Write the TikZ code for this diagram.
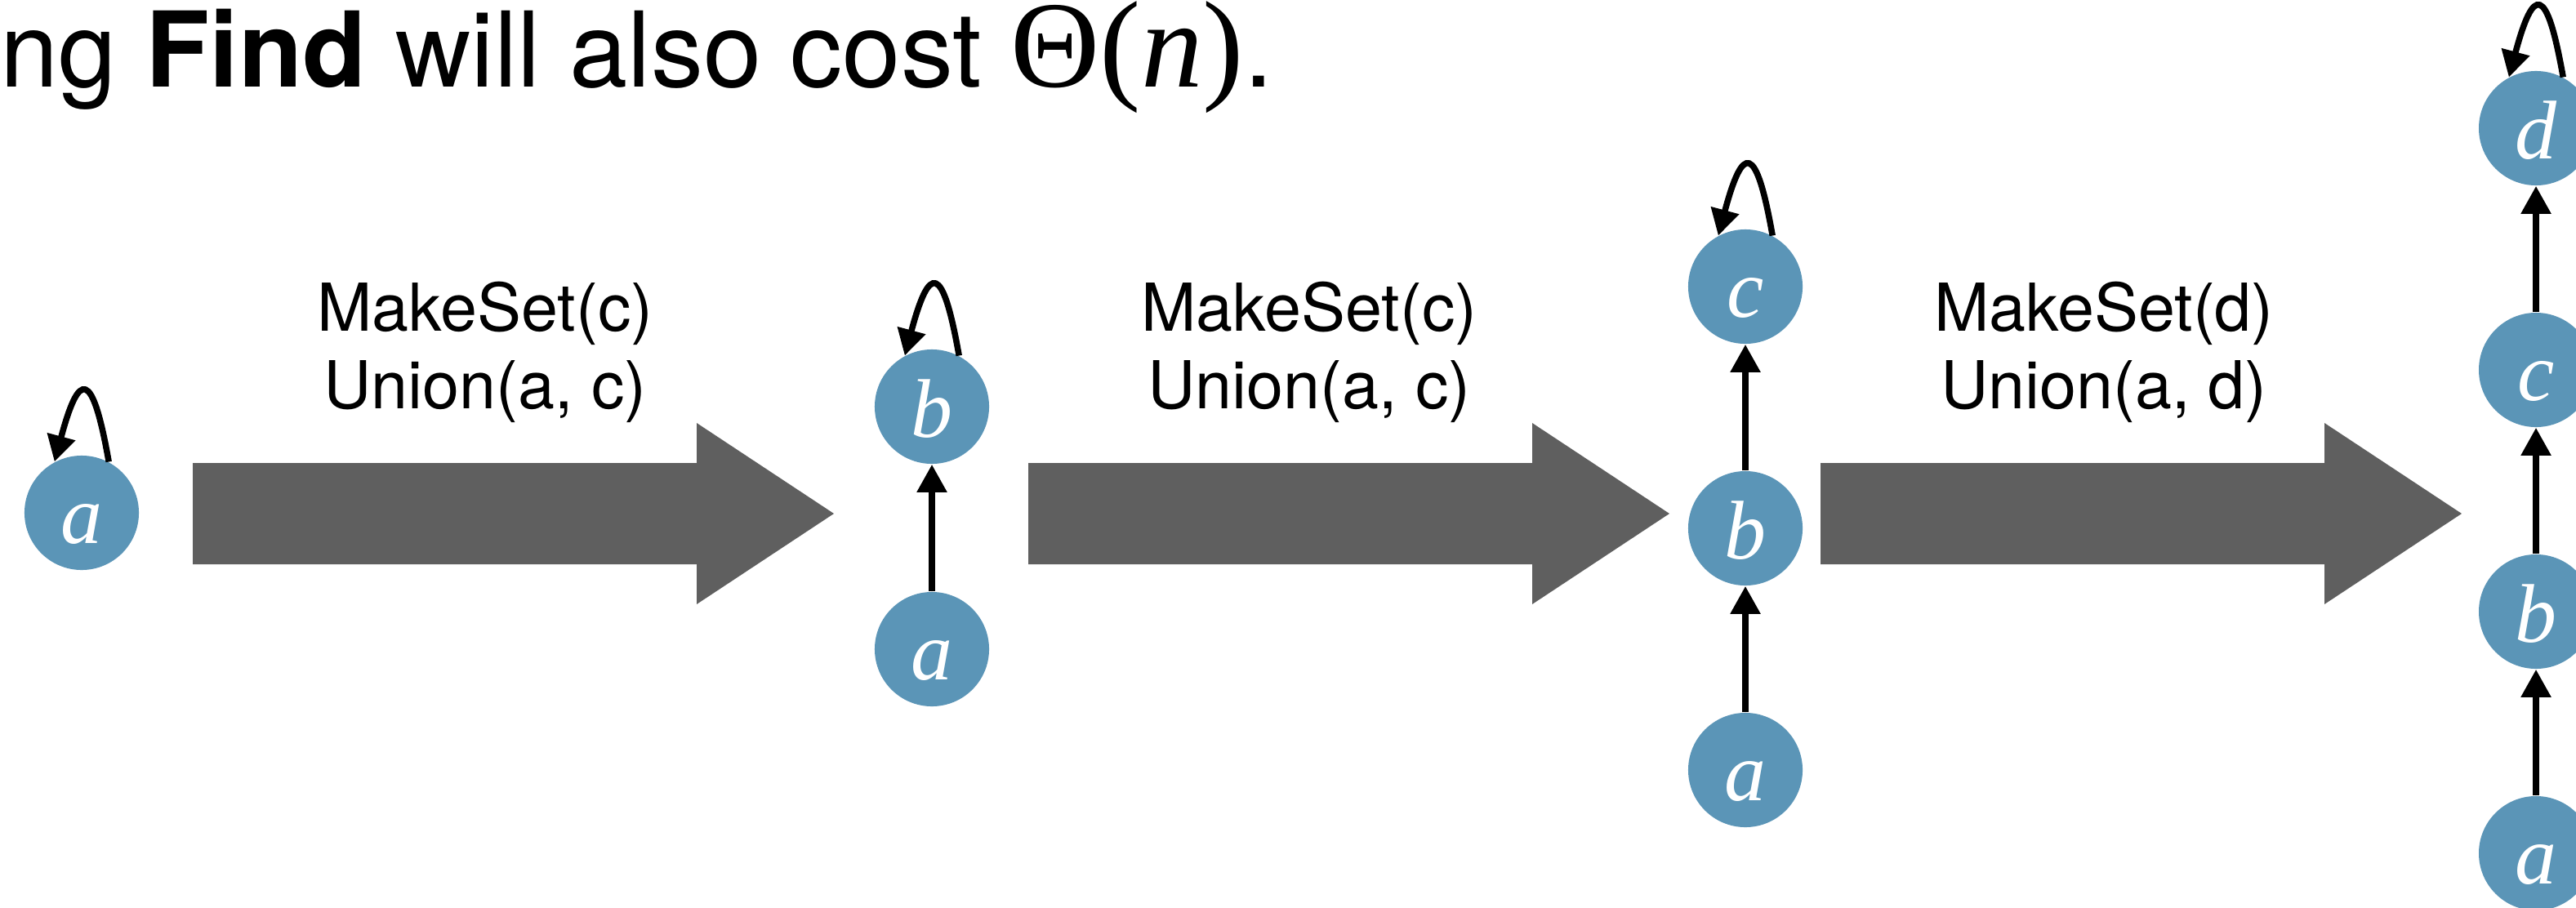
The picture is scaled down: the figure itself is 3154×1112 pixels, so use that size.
\documentclass[tikz,border=0pt]{standalone}
\usepackage{fontspec}
\setmainfont{TeX Gyre Heros}
\newfontfamily\letterfont{Liberation Serif}
\usetikzlibrary{arrows.meta}
\definecolor{nodeblue}{HTML}{5B95B7}
\definecolor{arrowgray}{HTML}{5F5F5F}
\tikzset{
  elem/.style={circle, fill=nodeblue, minimum size=1.4cm, inner sep=0pt,
    text=white, font=\letterfont\itshape\fontsize{29}{29}\selectfont,
    text height=0.74cm, text depth=0pt},
  parent/.style={line width=0.08cm, -{Triangle[length=0.34cm,width=0.35cm]}},
  selfloop/.style={line width=0.075cm, -{Triangle[length=0.32cm,width=0.34cm]},
    out=100, in=75, distance=1.16cm},
  bigarrow/.style={fill=arrowgray},
  oplabel/.style={anchor=base, inner sep=0pt, font=\fontsize{23}{27}\selectfont},
}
% fat transition arrow starting at x = #1 (shaft 617, head 168)
\newcommand\fatarrow[1]{%
  \fill[bigarrow] (#1,567) -- ++(617,0) -- ++(0,-49) -- ++(168,111)
    -- ++(-168,111) -- ++(0,-49) -- ++(-617,0) -- cycle;}
\begin{document}
\begin{tikzpicture}[x=0.01cm, y=-0.01cm]
\useasboundingbox (0,0) rectangle (3154,1112);
\clip (0,0) rectangle (3154,1112);

% headline
\node[anchor=base west, inner sep=0pt, font=\fontsize{36.4}{40}\selectfont]
  (headline) at (0,106)
  {ng \textbf{Find} will also cost {\letterfont\fontsize{43}{43}\selectfont Θ(\textit{n})}.};

% transition arrows
\fatarrow{236}
\fatarrow{1259}
\fatarrow{2229}

% operation labels
\node[oplabel] (op1a) at (594,405) {MakeSet(c)};
\node[oplabel] (op1b) at (594,500) {Union(a, c)};
\node[oplabel] (op2a) at (1603,405) {MakeSet(c)};
\node[oplabel] (op2b) at (1603,500) {Union(a, c)};
\node[oplabel] (op3a) at (2576,405) {MakeSet(d)};
\node[oplabel] (op3b) at (2576,500) {Union(a, d)};

% stage 1
\node[elem] (a1) at (100,628) {a};
% stage 2
\node[elem] (b2) at (1141,498) {b};
\node[elem] (a2) at (1141,795) {a};
% stage 3
\node[elem] (c3) at (2137,351) {c};
\node[elem] (b3) at (2137,647) {b};
\node[elem] (a3) at (2137,943) {a};
% stage 4
\node[elem] (d4) at (3105,157) {d};
\node[elem] (c4) at (3105,453) {c};
\node[elem] (b4) at (3105,749) {b};
\node[elem] (a4) at (3105,1045) {a};

% parent pointers
\draw[parent] (a2) -- (b2);
\draw[parent] (a3) -- (b3);
\draw[parent] (b3) -- (c3);
\draw[parent] (a4) -- (b4);
\draw[parent] (b4) -- (c4);
\draw[parent] (c4) -- (d4);

% roots point to themselves
\foreach \r in {a1,b2,c3,d4}
  \draw[selfloop] (\r.62) to (\r.118);
\end{tikzpicture}
\end{document}
